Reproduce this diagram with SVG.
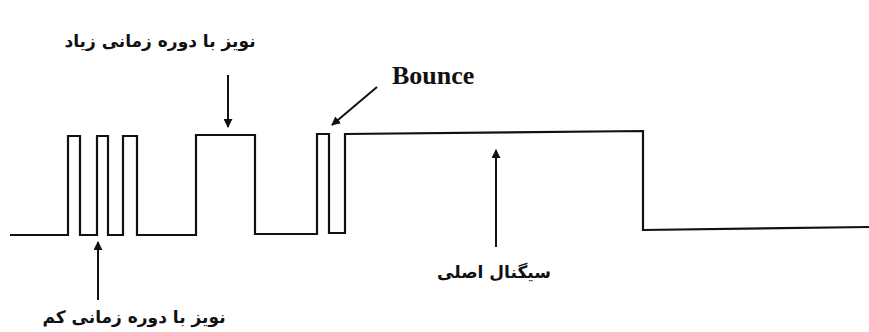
<svg xmlns="http://www.w3.org/2000/svg" width="869" height="332" viewBox="0 0 869 332">
<style>
.wave{fill:none;stroke:#111;stroke-width:2.2;stroke-linejoin:miter}
.arr{fill:none;stroke:#111;stroke-width:2}
.fa{font-family:"DejaVu Sans","Noto Sans",sans-serif;font-weight:bold;font-size:17px;fill:#111;text-anchor:middle}
.en{font-family:"Liberation Serif",serif;font-weight:bold;font-size:26px;fill:#111}
</style>
<defs>
<marker id="ah" viewBox="0 0 10 10" refX="9" refY="5" markerWidth="9" markerHeight="9" markerUnits="userSpaceOnUse" orient="auto">
<path d="M0,0 L10,5 L0,10 Z" fill="#111"/>
</marker>
</defs>
<rect width="869" height="332" fill="#fff"/>
<g id="signal">
<polyline class="wave" points="10,235 68,235 68,136 80,136 80,235 97,235 97,136 108,136 108,235 123,235 123,136 137,136 137,235 196,235 196,135 255,135 255,234 317,234 317,134 329,134 329,233 345,233 345,134 643,131 643,230 869,227"/>
</g>
<g id="connectors">
<line class="arr" x1="228" y1="75" x2="228" y2="127" marker-end="url(#ah)"/>
<line class="arr" x1="377" y1="87" x2="332" y2="125" marker-end="url(#ah)"/>
<line class="arr" x1="496" y1="247" x2="496" y2="150" marker-end="url(#ah)"/>
<line class="arr" x1="98" y1="300" x2="98" y2="242" marker-end="url(#ah)"/>
</g>
<g id="label-long-noise"><text class="fa" x="160" y="47">نویز با دوره زمانی زیاد</text></g>
<g id="label-bounce"><text class="en" x="392" y="84">Bounce</text></g>
<g id="label-main"><text class="fa" x="494" y="278">سیگنال اصلی</text></g>
<g id="label-short-noise"><text class="fa" x="134" y="323">نویز با دوره زمانی کم</text></g>
</svg>
